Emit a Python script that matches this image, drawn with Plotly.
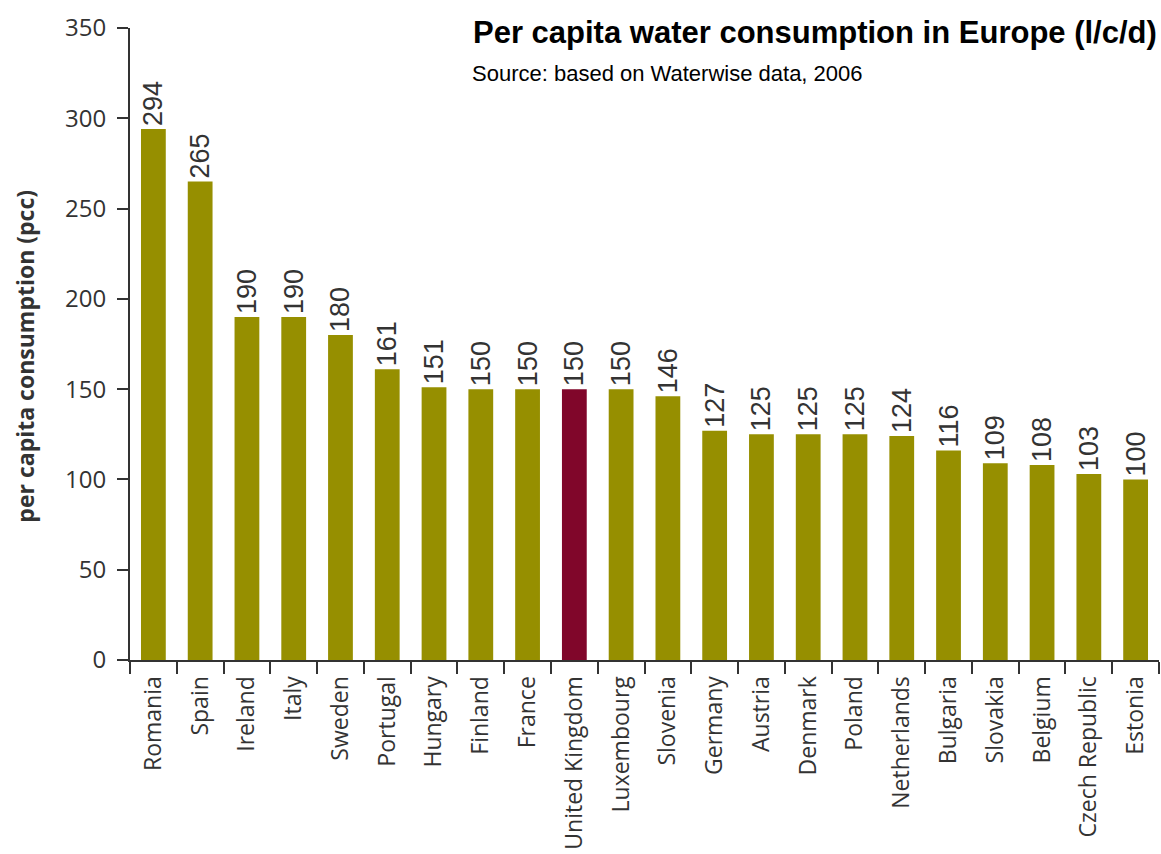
import plotly.graph_objects as go

countries = ["Romania", "Spain", "Ireland", "Italy", "Sweden", "Portugal", "Hungary",
             "Finland", "France", "United Kingdom", "Luxembourg", "Slovenia", "Germany",
             "Austria", "Denmark", "Poland", "Netherlands", "Bulgaria", "Slovakia",
             "Belgium", "Czech Republic", "Estonia"]
values = [294, 265, 190, 190, 180, 161, 151, 150, 150, 150, 150, 146, 127,
          125, 125, 125, 124, 116, 109, 108, 103, 100]
y_ticks = [0, 50, 100, 150, 200, 250, 300, 350]

OLIVE = "#968F00"
MAROON = "#80062A"
colors = [MAROON if c == "United Kingdom" else OLIVE for c in countries]

fig = go.Figure(go.Bar(
    x=countries, y=values,
    marker=dict(color=colors, line=dict(width=0)),
    text=[str(v) for v in values],
    textposition="outside",
    textangle=-90,
    constraintext="none",
    textfont=dict(family="Liberation Sans Narrow, Arial Narrow, Liberation Sans", size=27, color="#333333"),
    cliponaxis=False,
))

fig.update_layout(
    width=1161, height=854,
    margin=dict(l=130, r=2, t=28, b=194),
    plot_bgcolor="white", paper_bgcolor="white",
    bargap=0.47,
    showlegend=False,
    font=dict(family="Open Sans, Noto Sans, sans-serif", color="#333333"),
    xaxis=dict(
        showline=True, linecolor="#333333", linewidth=2,
        ticks="outside", ticklen=12, tickcolor="#333333", tickwidth=2,
        tickson="boundaries", tickangle=-90, ticklabelstandoff=5,
        tickfont=dict(size=23, color="#333333"),
        showgrid=False, automargin=False,
    ),
    yaxis=dict(
        range=[0, 350], tickvals=y_ticks,
        showline=True, linecolor="#333333", linewidth=2,
        ticks="outside", ticklen=11, tickcolor="#333333", tickwidth=2,
        ticklabelstandoff=6,
        tickfont=dict(size=24, color="#333333"),
        showgrid=False, zeroline=False, automargin=False,
    ),
    annotations=[
        dict(text="<b>per capita consumption (pcc)</b>",
             xref="paper", yref="paper", x=0, y=0.48, xanchor="center", yanchor="middle",
             xshift=-105, textangle=-90, showarrow=False,
             font=dict(family="Open Sans, Noto Sans, sans-serif", size=23, color="#333333")),
        dict(text="<b>Per capita water consumption in Europe (l/c/d)</b>",
             xref="paper", yref="paper", x=1.0, y=1.0, xanchor="right", yanchor="middle",
             xshift=0, yshift=-4, showarrow=False,
             font=dict(family="Liberation Sans, Arial", size=31, color="black")),
        dict(text="Source: based on Waterwise data, 2006",
             xref="paper", yref="paper", x=(470 - 130) / (1161 - 132), y=1.0,
             xanchor="left", yanchor="middle",
             yshift=-45, showarrow=False,
             font=dict(family="Liberation Sans, Arial", size=22, color="black")),
    ],
)

fig.write_html("out.html")
